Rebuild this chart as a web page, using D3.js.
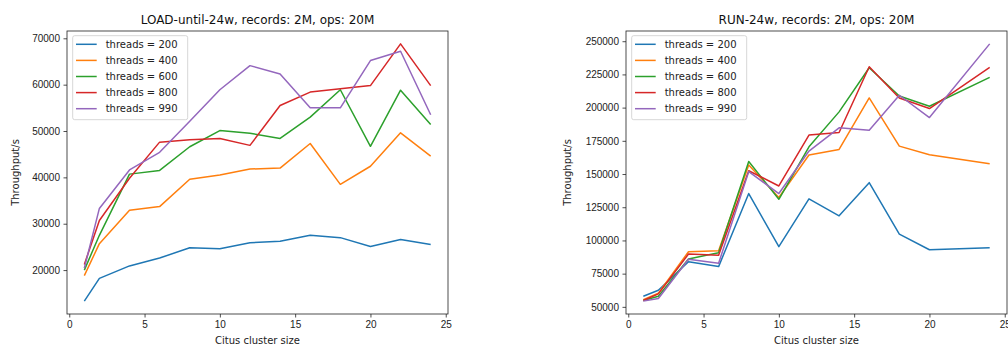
<!DOCTYPE html>
<html>
<head>
<meta charset="utf-8">
<script src="https://cdn.jsdelivr.net/npm/d3@7"></script>
<style>
  body { margin: 0; background: #fff; }
  svg { font-family: "DejaVu Sans", sans-serif; }
  .tick text { font-size: 10px; fill: #222; }
  .tick line { stroke: #222; stroke-width: 0.8; }
</style>
</head>
<body>
<div class="display"></div>
<script>
// Two panels of throughput vs. Citus cluster size, one line per thread count

const WIDTH = 1008;
const HEIGHT = 347;

const threadCounts = [200, 400, 600, 800, 990];
const colors = ['#1f77b4', '#ff7f0e', '#2ca02c', '#d62728', '#9467bd'];

// LOAD panel
const loadSizes = [1, 2, 4, 6, 8, 10, 12, 14, 16, 18, 20, 22, 24];
const load200 = [13300, 18200, 20900, 22600, 24800, 24600, 25900, 26200, 27500, 27000, 25100, 26600, 25500];
const load400 = [18800, 25700, 32900, 33700, 39600, 40500, 41800, 42000, 47300, 38500, 42400, 49600, 44600];
const load600 = [20000, 27500, 40700, 41500, 46600, 50100, 49500, 48400, 53000, 58900, 46700, 58800, 51400];
const load800 = [21200, 30700, 39800, 47600, 48100, 48400, 46900, 55500, 58400, 59100, 59800, 68800, 59800];
const load990 = [20400, 33300, 41600, 45400, 52100, 58900, 64100, 62300, 55000, 55000, 65200, 67200, 53500];
const loadTicks = [20000, 30000, 40000, 50000, 60000, 70000];

// RUN panel
const runSizes = [1, 2, 4, 6, 8, 10, 12, 14, 16, 18, 20, 24];
const run200 = [58000, 62500, 84000, 80300, 135300, 95300, 131300, 118500, 143500, 104800, 93000, 94500];
const run400 = [55300, 60300, 91500, 92300, 156800, 132300, 164300, 168500, 207300, 171000, 164500, 157800];
const run600 = [54800, 58000, 86000, 90800, 159500, 131000, 170500, 196800, 230000, 208800, 201000, 222800];
const run800 = [54800, 59800, 89800, 88800, 152500, 141000, 179300, 181300, 230800, 207300, 199300, 230300];
const run990 = [54300, 56300, 85800, 82800, 151800, 135300, 167300, 184800, 183000, 209300, 192500, 248000];
const runTicks = [50000, 75000, 100000, 125000, 150000, 175000, 200000, 225000, 250000];

const xTicks = [0, 5, 10, 15, 20, 25];

const svg = d3.select('.display')
  .append('svg')
  .attr('width', WIDTH)
  .attr('height', HEIGHT);

// matplotlib-style 5% margins
function padded(lo, hi) {
  const p = (hi - lo) * 0.05;
  return [lo - p, hi + p];
}

function drawPanel(opts) {
  const { left, right, top, bottom, title, sizes, series, yTicks, ylabelX } = opts;
  const g = svg.append('g');

  const x = d3.scaleLinear()
    .domain(padded(d3.min(sizes), d3.max(sizes)))
    .range([left, right]);
  const allVals = series.flat();
  const y = d3.scaleLinear()
    .domain(padded(d3.min(allVals), d3.max(allVals)))
    .range([bottom, top]);

  const line = d3.line()
    .x((d, i) => x(sizes[i]))
    .y(d => y(d));

  g.selectAll('.series')
    .data(series)
    .enter()
    .append('path')
    .attr('class', 'series')
    .attr('fill', 'none')
    .attr('stroke', (d, i) => colors[i])
    .attr('stroke-width', 1.5)
    .attr('stroke-linejoin', 'round')
    .attr('d', line);

  g.append('g')
    .attr('transform', `translate(0,${bottom})`)
    .call(d3.axisBottom(x).tickValues(xTicks).tickSize(3.5).tickPadding(3.5))
    .call(a => a.select('.domain').remove());

  g.append('g')
    .attr('transform', `translate(${left},0)`)
    .call(d3.axisLeft(y).tickValues(yTicks).tickFormat(d3.format('d')).tickSize(3.5).tickPadding(3.5))
    .call(a => a.select('.domain').remove());

  g.append('rect')
    .attr('x', left)
    .attr('y', top)
    .attr('width', right - left)
    .attr('height', bottom - top)
    .attr('fill', 'none')
    .attr('stroke', '#222')
    .attr('stroke-width', 0.8);

  g.append('text')
    .attr('x', (left + right) / 2)
    .attr('y', 24)
    .attr('text-anchor', 'middle')
    .attr('font-size', 12)
    .attr('fill', '#111')
    .text(title);

  g.append('text')
    .attr('x', (left + right) / 2)
    .attr('y', 344)
    .attr('text-anchor', 'middle')
    .attr('font-size', 10)
    .attr('fill', '#222')
    .text('Citus cluster size');

  g.append('text')
    .attr('transform', `translate(${ylabelX},${(top + bottom) / 2}) rotate(-90)`)
    .attr('text-anchor', 'middle')
    .attr('dy', '0.35em')
    .attr('font-size', 10)
    .attr('fill', '#222')
    .text('Throughput/s');

  // legend
  const legend = g.append('g')
    .attr('transform', `translate(${left + 5.7},${top + 4.7})`);
  legend.append('rect')
    .attr('width', 115)
    .attr('height', 84)
    .attr('rx', 2)
    .attr('fill', '#fff')
    .attr('fill-opacity', 0.8)
    .attr('stroke', '#ccc')
    .attr('stroke-width', 0.8);
  const rows = legend.selectAll('.entry')
    .data(threadCounts)
    .enter()
    .append('g')
    .attr('class', 'entry')
    .attr('transform', (d, i) => `translate(0,${8.6 + i * 16.1})`);
  rows.append('line')
    .attr('x1', 3.3)
    .attr('x2', 24)
    .attr('stroke', (d, i) => colors[i])
    .attr('stroke-width', 1.5);
  rows.append('text')
    .attr('x', 33)
    .attr('dy', '0.35em')
    .attr('font-size', 10)
    .attr('fill', '#222')
    .text(d => `threads = ${d}`);
}

drawPanel({
  left: 67, right: 448, top: 31, bottom: 314,
  title: 'LOAD-until-24w, records: 2M, ops: 20M',
  sizes: loadSizes,
  series: [load200, load400, load600, load800, load990],
  yTicks: loadTicks,
  ylabelX: 15
});

drawPanel({
  left: 626, right: 1007, top: 31, bottom: 314,
  title: 'RUN-24w, records: 2M, ops: 20M',
  sizes: runSizes,
  series: [run200, run400, run600, run800, run990],
  yTicks: runTicks,
  ylabelX: 567
});
</script>
</body>
</html>
